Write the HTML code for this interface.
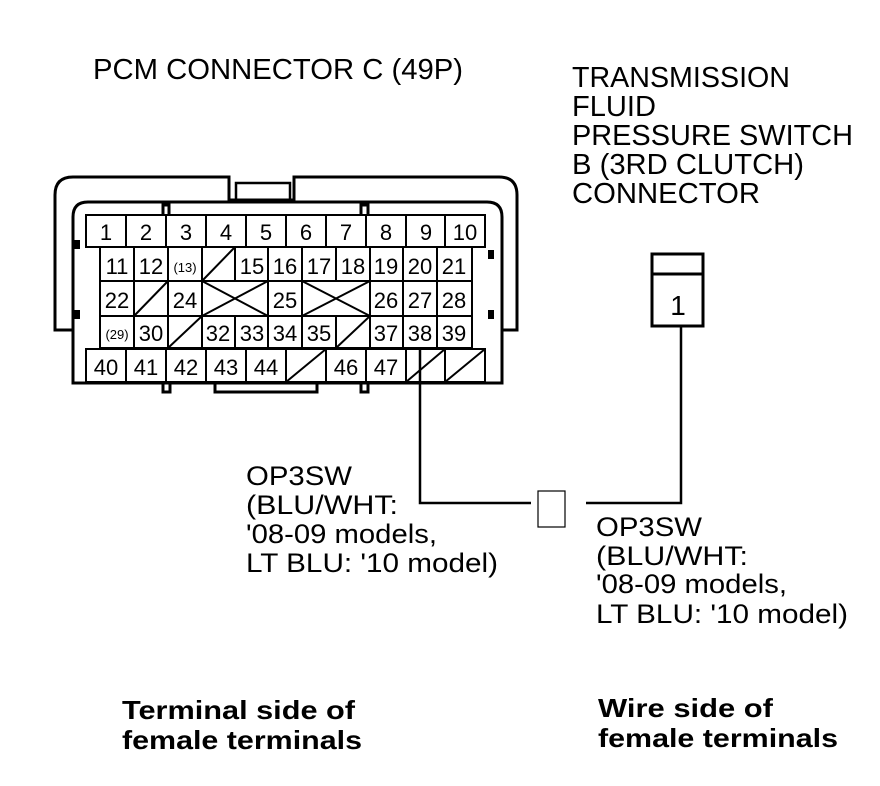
<!DOCTYPE html>
<html><head><style>html,body{margin:0;padding:0;background:#fff}svg{display:block}
text{font-family:"Liberation Sans",Arial,sans-serif;fill:#000}</style></head>
<body>
<svg width="880" height="786" viewBox="0 0 880 786" xmlns="http://www.w3.org/2000/svg">
<g font-size="29">
<text x="93" y="79" textLength="370" lengthAdjust="spacingAndGlyphs">PCM CONNECTOR C (49P)</text>
<text x="572" y="87" textLength="218" lengthAdjust="spacingAndGlyphs">TRANSMISSION</text>
<text x="572" y="116" textLength="84" lengthAdjust="spacingAndGlyphs">FLUID</text>
<text x="572" y="145" textLength="281" lengthAdjust="spacingAndGlyphs">PRESSURE SWITCH</text>
<text x="572" y="174" textLength="232" lengthAdjust="spacingAndGlyphs">B (3RD CLUTCH)</text>
<text x="572" y="203" textLength="188" lengthAdjust="spacingAndGlyphs">CONNECTOR</text>
</g>
<g font-size="27">
<text x="246" y="485" textLength="106" lengthAdjust="spacingAndGlyphs">OP3SW</text>
<text x="246" y="514" textLength="152" lengthAdjust="spacingAndGlyphs">(BLU/WHT:</text>
<text x="246" y="543" textLength="191" lengthAdjust="spacingAndGlyphs">'08-09 models,</text>
<text x="246" y="572" textLength="252" lengthAdjust="spacingAndGlyphs">LT BLU: '10 model)</text>
<text x="596" y="536" textLength="106" lengthAdjust="spacingAndGlyphs">OP3SW</text>
<text x="596" y="565" textLength="152" lengthAdjust="spacingAndGlyphs">(BLU/WHT:</text>
<text x="596" y="593" textLength="191" lengthAdjust="spacingAndGlyphs">'08-09 models,</text>
<text x="596" y="623" textLength="252" lengthAdjust="spacingAndGlyphs">LT BLU: '10 model)</text>
</g>
<g font-size="26" font-weight="bold">
<text x="122" y="719" textLength="233" lengthAdjust="spacingAndGlyphs">Terminal side of</text>
<text x="122" y="749" textLength="240" lengthAdjust="spacingAndGlyphs">female terminals</text>
<text x="598" y="717" textLength="175" lengthAdjust="spacingAndGlyphs">Wire side of</text>
<text x="598" y="747" textLength="240" lengthAdjust="spacingAndGlyphs">female terminals</text>
</g>

<g fill="none" stroke="#000" stroke-width="3">
<path d="M73,330 H55 V195 Q55,177 73,177 H229 V200 H294 V177 H499 Q517,177 517,195 V330 H502"/>
<rect x="236" y="183" width="54" height="17" stroke-width="2.5"/>
<path d="M73,383 V217 Q73,202 88,202 H487 Q502,202 502,217 V383 Z"/>
<path d="M163,215 V205 H169 V215"/>
<path d="M361,215 V205 H368 V215"/>
<path d="M163,383 V392 H170 V383"/>
<path d="M361,383 V392 H368 V383"/>
<path d="M215,383 V392 H317 V383"/>
</g>
<g fill="#000">
<rect x="74" y="240" width="6" height="9"/>
<rect x="74" y="310" width="6" height="9"/>
<rect x="488" y="250" width="6" height="9"/>
<rect x="488" y="310" width="6" height="9"/>
</g>

<g fill="none" stroke="#000" stroke-width="2">
<rect x="86" y="215" width="399" height="32"/>
<path d="M126,215V247M166,215V247M206,215V247M246,215V247M286,215V247M326,215V247M366,215V247M406,215V247M445,215V247"/>
<rect x="100" y="247" width="372" height="101"/>
<path d="M100,281H472M100,316H472"/>
<path d="M134,247V348M168,247V348M202,247V348M235,247V281M268,247V316M302,247V348M336,247V281M370,247V348M403,247V348M437,247V348"/>
<path d="M235,316V348M268,316V348M336,316V348"/>
<path d="M202,281L235,247"/>
<path d="M134,316L168,281"/>
<path d="M202,281L268,316M202,316L268,281"/>
<path d="M302,281L370,316M302,316L370,281"/>
<path d="M168,348L202,316"/>
<path d="M336,348L370,316"/>
<rect x="86" y="349" width="399" height="33"/>
<path d="M126,349V382M166,349V382M206,349V382M246,349V382M286,349V382M326,349V382M366,349V382M406,349V382M445,349V382"/>
<path d="M286,382L326,349M406,382L445,349M445,382L485,349"/>
</g>
<g font-size="22" text-anchor="middle">
<text x="106" y="240">1</text><text x="146" y="240">2</text><text x="186" y="240">3</text><text x="226" y="240">4</text><text x="266" y="240">5</text><text x="306" y="240">6</text><text x="346" y="240">7</text><text x="386" y="240">8</text><text x="426" y="240">9</text><text x="465" y="240">10</text>
<text x="117" y="274">11</text><text x="151" y="274">12</text><text x="185" y="272" font-size="13">(13)</text><text x="252" y="274">15</text><text x="285" y="274">16</text><text x="319" y="274">17</text><text x="353" y="274">18</text><text x="386" y="274">19</text><text x="420" y="274">20</text><text x="454" y="274">21</text>
<text x="117" y="308">22</text><text x="185" y="308">24</text><text x="285" y="308">25</text><text x="386" y="308">26</text><text x="420" y="308">27</text><text x="454" y="308">28</text>
<text x="117" y="339" font-size="13">(29)</text><text x="151" y="341">30</text><text x="218" y="341">32</text><text x="252" y="341">33</text><text x="285" y="341">34</text><text x="319" y="341">35</text><text x="386" y="341">37</text><text x="420" y="341">38</text><text x="454" y="341">39</text>
<text x="106" y="375">40</text><text x="146" y="375">41</text><text x="186" y="375">42</text><text x="226" y="375">43</text><text x="266" y="375">44</text><text x="346" y="375">46</text><text x="386" y="375">47</text>
</g>

<g fill="none" stroke="#000" stroke-width="2.5">
<path d="M420,349 V503 H531"/>
<path d="M586,503 H681 V327"/>
</g>
<rect x="538" y="491" width="27" height="36" fill="none" stroke="#000" stroke-width="1.2"/>
<rect x="652" y="254" width="51" height="72" fill="none" stroke="#000" stroke-width="3"/>
<line x1="652" y1="274" x2="703" y2="274" stroke="#000" stroke-width="3"/>
<text x="678" y="315" font-size="28" text-anchor="middle">1</text>
</svg>
</body></html>
